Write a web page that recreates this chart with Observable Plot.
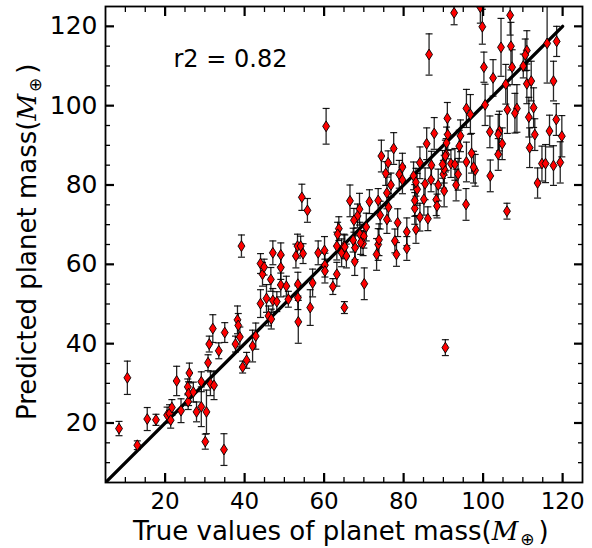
<!DOCTYPE html>
<html><head><meta charset="utf-8">
<script src="https://cdn.jsdelivr.net/npm/d3@7"></script>
<script src="https://cdn.jsdelivr.net/npm/@observablehq/plot@0.6"></script>
<style>body{margin:0;background:#fff}#chart svg{display:block}</style>
</head><body><div id="chart"></div>
<script>
const trueMass = [8.4,10.5,13.0,15.5,17.7,20.5,21.1,21.4,21.7,22.9,24.0,25.8,25.7,26.1,25.9,27.1,27.9,29.1,29.1,30.4,30.1,31.4,32.3,34.8,33.5,31.1,30.8,35.0,37.7,38.8,39.5,40.5,42.8,42.0,38.2,38.4,32.0,39.2,44.0,44.5,44.9,46.6,47.1,45.5,44.0,47.1,48.1,46.0,46.7,49.1,49.1,49.1,50.5,51.0,52.9,53.3,54.1,54.7,53.4,53.4,53.5,56.5,57.1,58.5,60.1,60.2,60.2,62.2,63.2,63.2,64.4,65.1,65.0,60.5,54.4,55.8,66.5,63.7,63.4,74.4,77.5,76.1,75.5,76.8,75.8,73.6,71.4,68.9,68.4,67.5,65.2,65.6,67.8,69.0,70.6,70.0,69.8,69.2,67.3,67.7,73.6,73.2,73.8,74.1,75.8,76.2,78.5,77.8,78.2,80.8,83.1,84.1,82.8,82.8,83.4,82.5,83.1,84.1,85.1,86.1,85.4,86.9,85.8,87.7,88.2,88.4,88.7,90.2,90.0,90.2,90.7,90.8,91.1,78.9,79.7,79.7,87.0,89.8,91.9,80.8,92.7,86.4,99.3,99.8,100.2,102.5,104.5,106.8,107.0,107.3,105.7,111.0,110.6,110.1,111.0,112.1,116.1,118.5,117.7,100.5,95.8,96.8,106.1,108.5,108.0,112.7,111.5,101.7,104.1,103.8,104.8,103.8,101.8,113.0,111.7,116.7,118.4,119.8,114.8,115.7,117.7,119.4,113.7,106.0,95.8,95.7,98.0,97.1,94.0,94.3,91.0,90.5,93.7,92.9,93.2,90.5,70.1,97.6];
const predMass = [18.6,31.4,14.4,21.0,20.8,22.0,22.4,20.7,23.9,30.6,23.1,25.4,29.1,32.6,27.4,27.8,22.8,24.1,30.4,22.8,15.3,29.9,29.5,13.3,38.2,39.9,35.2,42.8,39.9,41.7,34.1,35.8,41.9,39.4,46.0,44.6,43.8,64.6,60.2,57.5,59.3,56.2,62.9,51.4,50.1,50.9,50.6,47.0,46.2,59.2,62.4,54.8,54.5,51.2,62.1,64.6,64.6,62.7,55.0,51.6,45.5,49.1,55.3,62.9,63.5,59.8,58.3,54.4,57.5,64.6,62.9,49.1,64.6,94.8,76.9,73.6,76.0,69.0,67.6,87.3,89.2,85.6,82.9,80.0,78.0,76.1,75.8,73.9,72.2,71.1,64.4,62.1,64.2,67.6,69.4,67.1,65.2,65.5,66.1,60.7,65.0,62.5,66.2,72.4,71.3,74.4,70.5,65.9,62.5,64.0,68.8,71.9,74.1,76.1,78.9,82.3,80.7,85.6,76.4,71.5,80.3,81.3,90.4,93.0,76.3,74.7,80.0,78.5,82.7,84.0,87.7,90.6,92.7,82.7,84.5,81.3,85.0,85.2,85.4,68.2,123.4,112.9,124.8,119.9,109.7,107.0,114.7,122.8,115.0,109.7,105.4,113.9,112.8,110.0,105.5,106.2,115.7,116.2,106.2,100.2,99.3,97.8,99.0,99.3,98.1,99.5,97.1,93.4,93.6,92.8,90.4,87.7,82.3,92.7,89.4,93.6,96.5,92.3,85.4,85.4,84.9,85.7,80.5,73.4,85.8,75.1,83.7,88.0,89.8,92.4,96.8,87.3,82.7,85.2,80.0,39.0,55.1,84.5];
const predErr = [1.8,4.2,1.1,2.9,1.4,2.0,2.2,2.0,2.0,3.7,3.0,2.0,2.0,2.5,3.0,2.5,2.5,5.0,2.5,5.5,1.9,3.0,3.6,4.0,2.0,2.0,2.0,2.5,2.0,2.5,1.5,2.0,3.3,4.0,3.5,3.0,3.5,2.8,2.5,3.0,2.0,3.0,3.0,3.5,3.5,3.0,2.5,2.5,2.5,3.0,3.0,3.0,2.5,2.0,3.0,3.0,2.5,2.5,3.0,3.0,5.4,4.5,3.5,3.0,3.5,3.0,3.0,2.0,3.0,3.5,3.5,1.5,3.0,4.5,3.3,3.0,4.0,3.0,3.0,4.0,4.0,3.0,3.0,3.0,4.0,3.0,3.0,4.0,3.0,3.0,3.0,3.0,3.0,3.0,3.5,3.0,3.0,3.0,3.0,3.5,4.0,4.0,4.0,3.5,3.5,3.5,3.5,3.0,3.0,3.0,3.5,3.5,4.0,4.0,4.0,3.5,3.5,4.0,4.0,3.0,4.0,3.0,4.0,4.0,4.0,3.0,4.0,4.0,3.5,3.5,4.0,4.0,4.0,3.5,3.5,3.5,3.5,3.5,3.5,3.5,3.0,5.2,4.0,4.4,3.8,4.6,7.3,5.0,6.0,4.4,5.0,5.0,4.0,3.0,5.0,5.0,10.0,3.8,5.0,5.2,4.8,5.0,6.0,6.0,5.0,5.0,5.0,4.0,5.0,5.0,4.0,4.0,4.0,4.0,5.0,4.0,4.0,5.2,4.4,4.8,5.0,5.2,3.8,2.0,5.0,4.0,4.0,5.0,4.0,4.0,4.0,4.0,4.0,4.0,4.0,2.0,4.0,4.0];

const majorTicks = [20, 40, 60, 80, 100, 120];
const minorTicks = [10, 15, 25, 30, 35, 45, 50, 55, 65, 70, 75, 85, 90, 95, 105, 110, 115];
const axisDomain = [5, 125];
const fitX = [5, 120];           // 1:1 reference line
const annotation = "r2 = 0.82";
const xLabelText = "True values of planet mass(";
const yLabelText = "Predicted planet mass(";
const unitMain = "M";
const unitSub = "\u2295";
const unitClose = ")";

const points = trueMass.map((x, i) => ({x, y: predMass[i], lo: predMass[i] - predErr[i], hi: predMass[i] + predErr[i]}));
const fit = fitX.map(v => ({x: v, y: v}));

const thinDiamond = {draw(ctx, size) {
  const r = Math.sqrt(size / Math.PI);
  const h = r, w = r * 0.64;
  ctx.moveTo(0, -h); ctx.lineTo(w, 0); ctx.lineTo(0, h); ctx.lineTo(-w, 0); ctx.closePath();
}};
const capLine = {draw(ctx, size) {
  const r = Math.sqrt(size / Math.PI);
  ctx.moveTo(-r, 0); ctx.lineTo(r, 0);
}};

const font = "DejaVu Sans, Liberation Sans, sans-serif";
const empty = () => "";

const plot = Plot.plot({
  width: 592,
  height: 548,
  marginLeft: 105,
  marginRight: 10,
  marginTop: 6,
  marginBottom: 66,
  style: {fontFamily: font, background: "#fff", color: "#000", overflow: "visible"},
  x: {domain: axisDomain, label: null},
  y: {domain: axisDomain, label: null},
  marks: [
    Plot.ruleX(points, {x: "x", y1: "lo", y2: "hi", stroke: "#000", strokeOpacity: 0.85, strokeWidth: 1.3, clip: true}),
    Plot.dot(points, {x: "x", y: "hi", symbol: capLine, r: 3.5, stroke: "#000", strokeOpacity: 0.9, strokeWidth: 1.2, fill: "none", clip: true}),
    Plot.dot(points, {x: "x", y: "lo", symbol: capLine, r: 3.5, stroke: "#000", strokeOpacity: 0.9, strokeWidth: 1.2, fill: "none", clip: true}),
    Plot.line(fit, {x: "x", y: "y", stroke: "#000", strokeWidth: 3.3, clip: true}),
    Plot.dot(points, {x: "x", y: "y", symbol: thinDiamond, r: 5.4, fill: "#ff0000", stroke: "#000", strokeWidth: 0.9, clip: true}),
    Plot.text([annotation], {frameAnchor: "top-left", dx: 68, dy: 43, text: d => d, textAnchor: "start", fontSize: 24, fill: "#000"}),
    // inward ticks on all four sides
    Plot.axisX({ticks: majorTicks, anchor: "bottom", tickSize: -9, strokeWidth: 2.2, tickFormat: empty, label: null}),
    Plot.axisX({ticks: minorTicks, anchor: "bottom", tickSize: -5, strokeWidth: 1.3, tickFormat: empty, label: null}),
    Plot.axisX({ticks: majorTicks, anchor: "top", tickSize: -9, strokeWidth: 2.2, tickFormat: empty, label: null}),
    Plot.axisX({ticks: minorTicks, anchor: "top", tickSize: -5, strokeWidth: 1.3, tickFormat: empty, label: null}),
    Plot.axisY({ticks: majorTicks, anchor: "left", tickSize: -9, strokeWidth: 2.2, tickFormat: empty, label: null}),
    Plot.axisY({ticks: minorTicks, anchor: "left", tickSize: -5, strokeWidth: 1.3, tickFormat: empty, label: null}),
    Plot.axisY({ticks: majorTicks, anchor: "right", tickSize: -9, strokeWidth: 2.2, tickFormat: empty, label: null}),
    Plot.axisY({ticks: minorTicks, anchor: "right", tickSize: -5, strokeWidth: 1.3, tickFormat: empty, label: null}),
    // tick labels
    Plot.axisX({ticks: majorTicks, anchor: "bottom", tickSize: 0, tickPadding: 10, fontSize: 23, label: null}),
    Plot.axisY({ticks: majorTicks, anchor: "left", tickSize: 0, tickPadding: 8, fontSize: 25, label: null}),
    Plot.frame({stroke: "#000", strokeWidth: 1.8})
  ]
});

document.getElementById("chart").appendChild(plot);

// axis titles with the M⊕ unit as italic M and subscript ⊕
const svg = d3.select(plot);
function addLabel(g, text) {
  const t = g.append("text").attr("font-family", font).attr("font-size", 26)
    .attr("fill", "#000").attr("text-anchor", "start");
  t.append("tspan").text(text);
  t.append("tspan").attr("font-family", "DejaVu Serif, serif").attr("font-style", "italic").text(unitMain);
  t.append("tspan").attr("font-size", 17).attr("dy", "0.3em").attr("dx", 2).text(unitSub);
  t.append("tspan").attr("dy", "-0.2em").attr("dx", 4).text(unitClose);
  return t;
}
addLabel(svg.append("g").attr("transform", "translate(133,540)"), xLabelText);
addLabel(svg.append("g").attr("transform", "translate(36,420) rotate(-90)"), yLabelText);
</script>
</body></html>
